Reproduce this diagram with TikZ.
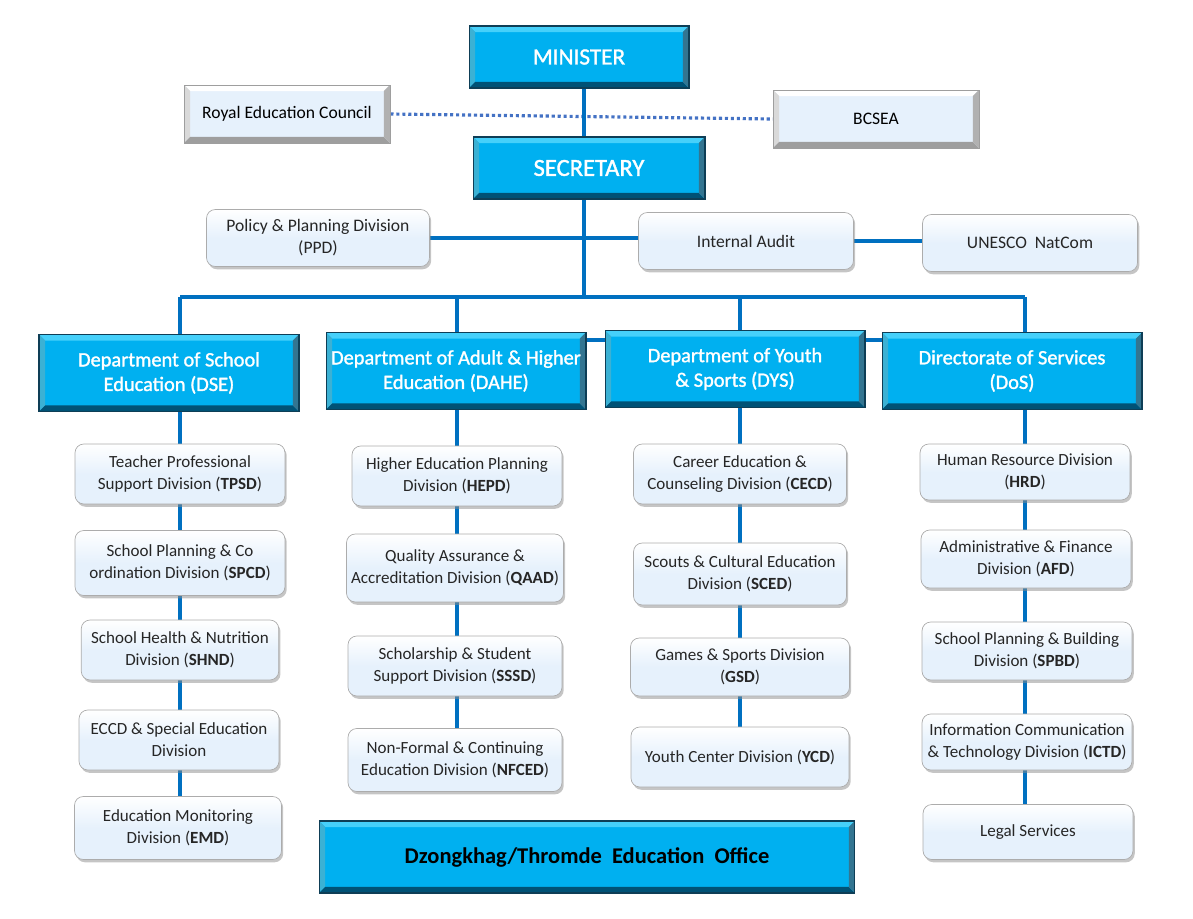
\documentclass[tikz,border=0pt]{standalone}
\usepackage{fontspec}
\setmainfont{Carlito}
\newfontfamily\headfont[FakeBold=1.4]{Carlito}
\usetikzlibrary{positioning}
\usetikzlibrary{calc}
\usetikzlibrary{shadows}
\usetikzlibrary{backgrounds}
\definecolor{mcyan}{RGB}{0,176,240}
\definecolor{mcyanlt}{RGB}{70,208,250}
\definecolor{mcyandk}{RGB}{0,82,118}
\definecolor{medge}{RGB}{14,62,86}
\definecolor{mpale}{RGB}{230,241,252}
\definecolor{mgrey}{RGB}{158,158,158}
\definecolor{mline}{RGB}{0,112,192}
\definecolor{mdots}{RGB}{68,114,196}
\tikzset{bevel/.style 2 args = {path picture={
    \fill[#1] (path picture bounding box.north west) -- (path picture bounding box.north east)
      -- ([shift={(-3.5pt,-3.5pt)}]path picture bounding box.north east)
      -- ([shift={(3.5pt,-3.5pt)}]path picture bounding box.north west) -- cycle;
    \fill[#1!85!black] (path picture bounding box.north west) -- ([shift={(3.5pt,-3.5pt)}]path picture bounding box.north west)
      -- ([shift={(3.5pt,3.5pt)}]path picture bounding box.south west) -- (path picture bounding box.south west) -- cycle;
    \fill[#2] (path picture bounding box.south west) -- (path picture bounding box.south east)
      -- ([shift={(-3.5pt,3.5pt)}]path picture bounding box.south east)
      -- ([shift={(3.5pt,3.5pt)}]path picture bounding box.south west) -- cycle;
    \fill[#2!80!white] (path picture bounding box.north east) -- ([shift={(-3.5pt,-3.5pt)}]path picture bounding box.north east)
      -- ([shift={(-3.5pt,3.5pt)}]path picture bounding box.south east) -- (path picture bounding box.south east) -- cycle;}}}
\tikzset{bluebox/.style = {draw=medge, fill=mcyan, line width=0.6pt, bevel={mcyanlt}{mcyandk},
                           text=white, align=center, inner sep=2pt}}
\tikzset{headbox/.style = {bluebox, minimum width=4.4cm, minimum height=1.24cm}}
\tikzset{deptbox/.style = {bluebox, minimum width=5.2cm, minimum height=1.54cm,
                           font=\headfont\fontsize{11.6}{14}\selectfont}}
\tikzset{sidebox/.style = {draw=mgrey, fill=mpale, bevel={white}{mgrey}, align=center,
                           minimum width=4.12cm, minimum height=1.16cm, font=\fontsize{10}{12}\selectfont}}
\tikzset{subbox/.style = {draw=gray!65, rounded corners=5pt, top color=white, bottom color=mpale, middle color=mpale,
                          drop shadow={shadow xshift=1pt, shadow yshift=-1.6pt, fill=black!45},
                          align=center, text=black!85, inner sep=1pt,
                          minimum width=4.2cm, minimum height=1.2cm, font=\fontsize{9.7}{12.4}\selectfont}}
\tikzset{staffbox/.style = {subbox, minimum width=4.3cm, minimum height=1.14cm, font=\fontsize{10}{12.4}\selectfont}}
\tikzset{link/.style = {draw=mline, line width=1.9pt}}
\tikzset{dots/.style = {draw=mdots, line width=1.8pt, dash pattern=on 1.8pt off 1.6pt}}

\begin{document}
\begin{tikzpicture}[x=0.02cm, y=-0.02cm]
  \useasboundingbox (0,0) rectangle (1193,919);

  % top of the chart
  \node [headbox, font=\headfont\fontsize{13.2}{15}\selectfont] (minister) at (579, 57) {MINISTER};
  \node [headbox, minimum width=4.64cm, font=\headfont\fontsize{14}{16}\selectfont] (secretary) at (589, 168) {SECRETARY};
  \node [sidebox] (rec) at (287, 114) {Royal Education Council};
  \node [sidebox] (bcsea) at (876, 119) {BCSEA};

  \node [staffbox, minimum width=4.46cm] (ppd) at (318, 238) {Policy \& Planning Division\\(PPD)};
  \node [staffbox] (audit) at (746, 241) {Internal Audit};
  \node [staffbox] (unesco) at (1030, 243) {UNESCO\ \ NatCom};

  \coordinate (bus) at (584, 297);

  % departments
  \node [deptbox] (dse) at (169, 373) {Department of School\\Education (DSE)};
  \node [deptbox] (dahe) at (456, 371) {Department of Adult \& Higher\\Education (DAHE)};
  \node [deptbox] (dys) at (735, 369) {Department of Youth\\\& Sports (DYS)};
  \node [deptbox] (dos) at (1012, 371) {Directorate of Services\\(DoS)};

  % divisions
  \node [subbox] (tpsd) at (180, 474) {Teacher Professional\\Support Division (\textbf{TPSD})};
  \node [subbox, minimum height=1.3cm] (spcd) at (180, 563) {School Planning \& Co\\ordination Division (\textbf{SPCD})};
  \node [subbox, minimum width=3.95cm] (shnd) at (180, 650) {School Health \& Nutrition\\Division (\textbf{SHND})};
  \node [subbox, minimum width=4cm] (eccd) at (179, 740) {ECCD \& Special Education\\Division};
  \node [subbox, minimum width=4.14cm, minimum height=1.26cm] (emd) at (178, 828) {Education Monitoring\\Division (\textbf{EMD})};

  \node [subbox] (hepd) at (457, 476) {Higher Education Planning\\Division (\textbf{HEPD})};
  \node [subbox, minimum width=4.34cm, minimum height=1.36cm] (qaad) at (455, 568) {Quality Assurance \&\\Accreditation Division (\textbf{QAAD})};
  \node [subbox, minimum width=4.28cm] (sssd) at (455, 666) {Scholarship \& Student\\Support Division (\textbf{SSSD})};
  \node [subbox, minimum width=4.28cm, minimum height=1.26cm] (nfced) at (455, 760) {Non-Formal \& Continuing\\Education Division (\textbf{NFCED})};

  \node [subbox, minimum width=4.26cm] (cecd) at (740, 474) {Career Education \&\\Counseling Division (\textbf{CECD})};
  \node [subbox, minimum width=4.26cm, minimum height=1.24cm] (sced) at (740, 574) {Scouts \& Cultural Education\\Division (\textbf{SCED})};
  \node [subbox, minimum width=4.38cm, minimum height=1.16cm] (gsd) at (740, 667) {Games \& Sports Division\\(\textbf{GSD})};
  \node [subbox, minimum width=4.36cm] (ycd) at (740, 757) {Youth Center Division (\textbf{YCD})};

  \node [subbox, minimum height=1.12cm] (hrd) at (1025, 472) {Human Resource Division\\(\textbf{HRD})};
  \node [subbox, minimum height=1.16cm] (afd) at (1026, 559) {Administrative \& Finance\\Division (\textbf{AFD})};
  \node [subbox, minimum height=1.16cm] (spbd) at (1027, 651) {School Planning \& Building\\Division (\textbf{SPBD})};
  \node [subbox, minimum height=1.12cm] (ictd) at (1027, 742) {Information Communication\\\& Technology Division (\textbf{ICTD})};
  \node [subbox, minimum height=1.1cm] (legal) at (1028, 832) {Legal Services};

  \node [bluebox, minimum width=10.72cm, minimum height=1.44cm, text=black,
         font=\bfseries\fontsize{12.8}{15}\selectfont] (deo) at (587, 857) {Dzongkhag/Thromde\ \ Education\ \ Office};

  % connectors behind the boxes
  \begin{scope}[on background layer]
    \draw [dots] (rec.east) -- (bcsea.west);
    \draw [link] (bus |- minister.south) -- (bus);
    \draw [link] (ppd.east) -- (ppd.east -| audit.west);
    \draw [link] (audit.east) -- (audit.east -| unesco.west);
    \draw [link] (tpsd |- bus) -- (hrd |- bus);
    \draw [link] ($(dahe.north east)+(0,8)$) -- ($(dos.north west)+(0,8)$);
    \draw [link] (tpsd |- bus) -- (tpsd |- emd);
    \draw [link] (hepd |- bus) -- (hepd |- nfced);
    \draw [link] (cecd |- bus) -- (cecd |- ycd);
    \draw [link] (hrd |- bus) -- (hrd |- legal);
  \end{scope}
\end{tikzpicture}
\end{document}
